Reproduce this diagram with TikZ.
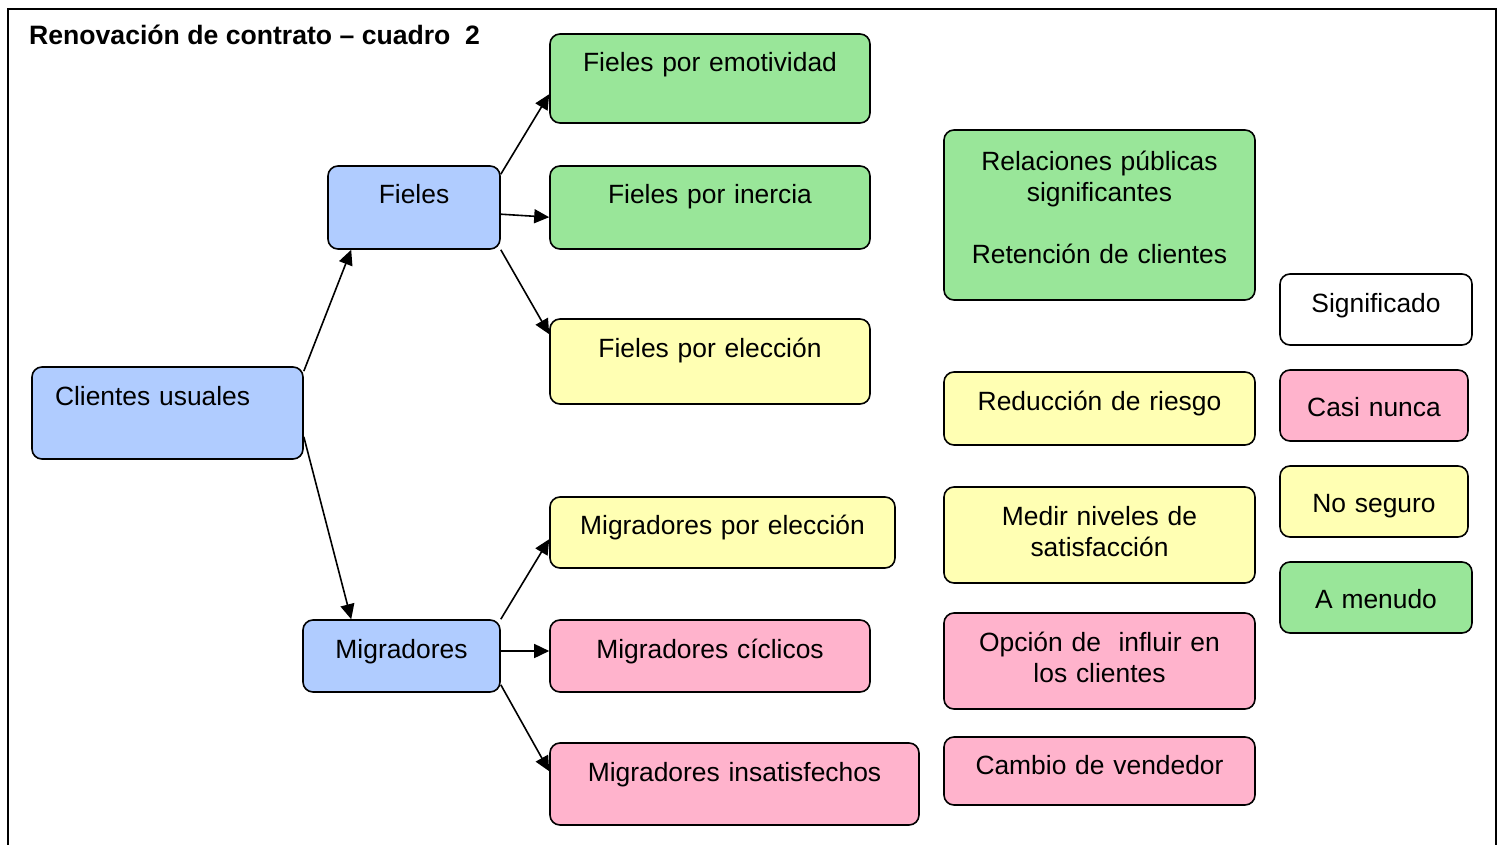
\documentclass[tikz,border=0pt]{standalone}
\usepackage{fontspec}
\setmainfont{Liberation Sans}
\usepackage{tikz}
\usetikzlibrary{arrows.meta}
\definecolor{azul}{RGB}{176,204,255}
\definecolor{verde}{RGB}{153,230,153}
\definecolor{amarillo}{RGB}{255,255,179}
\definecolor{rosa}{RGB}{255,179,204}
\tikzstyle{box} = [rectangle, rounded corners=10pt, draw=black, line width=1.6pt, inner xsep=0pt, inner ysep=0pt, anchor=base, align=center, font=\fontsize{26.4}{31}\selectfont]
\tikzstyle{arrow} = [line width=1.6pt,-{Triangle[length=15pt,width=14pt]}]

\begin{document}
\begin{tikzpicture}[x=1pt,y=-1pt]
\useasboundingbox (0,0) rectangle (1501,845);
\draw [line width=2pt] (8,860) -- (8,9) -- (1496,9) -- (1496,860);
\node (titulo) [anchor=base west, inner sep=0pt, font=\bfseries\fontsize{26.6}{31}\selectfont] at (29,45) {Renovación de contrato – cuadro\ \ 2};
% arbol de clientes
\node (cu) [box, fill=azul, align=left, inner xsep=23pt, text width=225pt, text height=38pt, text depth=54pt] at (167.5,405) {Clientes usuales};
\node (fi) [box, fill=azul, text width=172pt, text height=38pt, text depth=45pt] at (414,204) {Fieles};
\node (mi) [box, fill=azul, text width=197pt, text height=38pt, text depth=34pt] at (401.5,658) {Migradores};
\node (fe) [box, fill=verde, text width=320pt, text height=38pt, text depth=51pt] at (710,72) {Fieles por emotividad};
\node (fin) [box, fill=verde, text width=320pt, text height=38pt, text depth=45pt] at (710,204) {Fieles por inercia};
\node (fel) [box, fill=amarillo, text width=320pt, text height=38pt, text depth=47pt] at (710,357) {Fieles por elección};
\node (mel) [box, fill=amarillo, text width=345pt, text height=37pt, text depth=34pt] at (722.5,534) {Migradores por elección};
\node (mc) [box, fill=rosa, text width=320pt, text height=38pt, text depth=34pt] at (710,658) {Migradores cíclicos};
\node (mins) [box, fill=rosa, text width=369pt, text height=38pt, text depth=44pt] at (734.5,781) {Migradores insatisfechos};
% consecuencias
\node (rp) [box, fill=verde, text width=311pt, text height=41pt, text depth=129pt] at (1099.5,171) {Relaciones públicas\\significantes\\[31pt]Retención de clientes};
\node (rr) [box, fill=amarillo, text width=311pt, text height=38pt, text depth=35pt] at (1099.5,410) {Reducción de riesgo};
\node (mn) [box, fill=amarillo, text width=311pt, text height=38pt, text depth=58pt] at (1099.5,525) {Medir niveles de\\satisfacción};
\node (op) [box, fill=rosa, text width=311pt, text height=38pt, text depth=58pt] at (1099.5,651) {Opción de\ \ influir en\\los clientes};
\node (cv) [box, fill=rosa, text width=311pt, text height=37pt, text depth=31pt] at (1099.5,774) {Cambio de vendedor};
% leyenda
\node (sig) [box, fill=white, text width=192pt, text height=38pt, text depth=33pt] at (1376,312) {Significado};
\node (cn) [box, fill=rosa, text width=188pt, text height=46pt, text depth=25pt] at (1374,416) {Casi nunca};
\node (ns) [box, fill=amarillo, text width=188pt, text height=46pt, text depth=25pt] at (1374,512) {No seguro};
\node (am) [box, fill=verde, text width=192pt, text height=46pt, text depth=25pt] at (1376,608) {A menudo};
\draw [arrow] ([yshift=-5pt]cu.north east) -- ([xshift=24pt]fi.south west);
\draw [arrow] ([yshift=23pt]cu.south east) -- ([xshift=49pt]mi.north west);
\draw [arrow] ([yshift=-9pt]fi.north east) -- ([yshift=-61pt]fe.north west);
\draw [arrow] ([yshift=-49pt]fi.north east) -- ([yshift=-52pt]fin.north west);
\draw [arrow] (fi.south east) -- ([yshift=-16pt]fel.north west);
\draw [arrow] (mi.north east) -- ([yshift=-43pt]mel.north west);
\draw [arrow] ([yshift=5pt]mi.east) -- ([yshift=5pt]mc.west);
\draw [arrow] ([yshift=8pt]mi.south east) -- ([yshift=-29pt]mins.north west);
\end{tikzpicture}
\end{document}
